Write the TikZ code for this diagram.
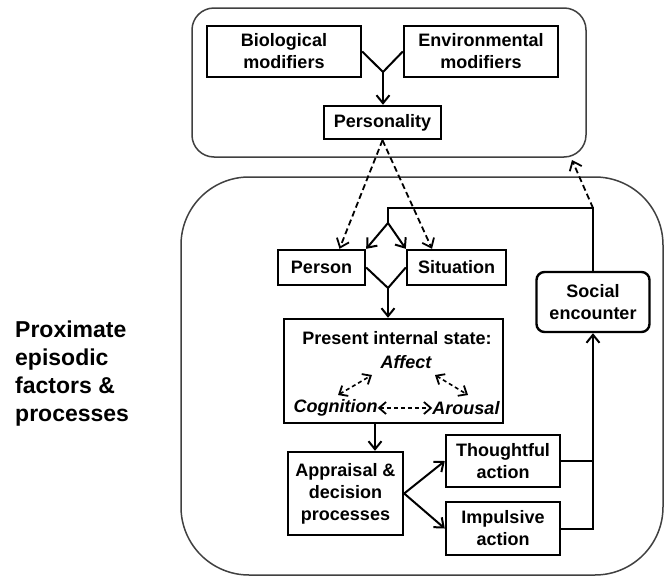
\documentclass[tikz,border=0pt]{standalone}
\usepackage{fontspec}
\setmainfont{Liberation Sans}
\usetikzlibrary{arrows.meta}
\begin{document}
\begin{tikzpicture}[x=1pt,y=-1pt,
  every node/.style={font=\bfseries\fontsize{18}{22}\selectfont},
  bx/.style={draw, line width=2.4pt, inner sep=0pt, align=center},
  conn/.style={line width=2pt, line join=miter},
  arr/.style={conn, -{Straight Barb[length=8pt,width=13pt,line width=2pt]}},
  darr/.style={line width=1.8pt, dash pattern=on 6pt off 3.5pt, -{Straight Barb[length=8pt,width=13pt,line width=1.8pt]}},
  dbl/.style={line width=1.6pt, dash pattern=on 4pt off 3pt, {Straight Barb[length=7pt,width=12pt,line width=1.8pt]}-{Straight Barb[length=7pt,width=12pt,line width=1.8pt]}},
  frame/.style={draw=black!75, line width=1.5pt}
]
\useasboundingbox (0,0) rectangle (665,576);
\fill[white] (0,0) rectangle (665,576);

% outer frames
\draw[frame, rounded corners=22pt] (192,8) rectangle (586,157);
\draw[frame, rounded corners=68pt] (181,177) rectangle (663,575);

% top group
\node[bx, minimum width=154pt, minimum height=51pt] (bio) at (284,51.5) {Biological\\modifiers};
\node[bx, minimum width=154pt, minimum height=51pt] (env) at (481,51.5) {Environmental\\modifiers};
\node[bx, minimum width=117pt, minimum height=33pt] (pers) at (382.5,122.5) {Personality};
\coordinate (yj) at (383,72);
\draw[conn] (bio.east) -- (yj) -- (env.west);
\draw[arr] (yj) -- (yj |- pers.north);

% lower group
\node[bx, minimum width=87pt, minimum height=35pt] (person) at (321.5,267.5) {Person};
\node[bx, minimum width=99pt, minimum height=35pt] (sit) at (456.5,267.5) {Situation};
\node[bx, rounded corners=8pt, minimum width=113pt, minimum height=60pt] (social) at (593,302) {Social\\encounter};
\node[bx, minimum width=219pt, minimum height=104pt] (present) at (393.5,371) {};
\node[bx, minimum width=115pt, minimum height=83pt] (appr) at (345.5,493.5) {Appraisal \&\\decision\\processes};
\node[bx, minimum width=114pt, minimum height=52pt] (thought) at (503,461) {Thoughtful\\action};
\node[bx, minimum width=114pt, minimum height=53pt] (impuls) at (503,528.5) {Impulsive\\action};

% inside present state
\node[inner sep=0pt] (pis) at (397,338) {Present internal state:};
\node[inner sep=0pt, font=\bfseries\itshape\fontsize{18}{22}\selectfont] (aff) at (406,362) {Affect};
\node[inner sep=0pt, font=\bfseries\itshape\fontsize{18}{22}\selectfont] (cog) at (335.5,408) {Cognition};
\node[inner sep=0pt, font=\bfseries\itshape\fontsize{18}{22}\selectfont] (aro) at (466,408) {Arousal};
\draw[dbl] (cog.east) -- (aro.west);
\coordinate (c1) at (338,395); \coordinate (c2) at (372,375);
\coordinate (c3) at (435,375); \coordinate (c4) at (468,395);
\draw[dbl] (c1) -- (c2);
\draw[dbl] (c3) -- (c4);

% left label
\node[inner sep=0pt, anchor=west, align=left, font=\bfseries\fontsize{23}{28}\selectfont] (lab) at (15,374) {Proximate\\episodic\\factors \&\\processes};

% dashed arrows from personality
\draw[darr] (pers.south) -- ([xshift=18pt]person.north);
\draw[darr] (pers.south) -- ([xshift=-24.5pt]sit.north);

% feedback loop
\coordinate (fb) at (593,208);
\coordinate (fbl) at (388,208);
\coordinate (split) at (388,223);
\coordinate (topc) at (572,160);
\draw[conn] (social.north) -- (fb) -- (fbl) -- (split);
\draw[arr] (split) -- (person.north east);
\draw[arr] (split) -- (sit.north west);
\draw[darr] (fb) -- (topc);

% diamond join
\coordinate (dj) at (388,288);
\draw[conn] (person.east) -- (dj) -- (sit.west);
\draw[arr] (dj) -- (dj |- present.north);

% present -> appraisal
\draw[arr] ([xshift=-18.5pt]present.south) -- ([xshift=-18.5pt]present.south |- appr.north);

% appraisal -> actions
\draw[arr] (appr.east) -- (thought.west);
\draw[arr] (appr.east) -- (impuls.west);

% actions -> social
\draw[conn] (thought.east) -- (thought.east -| social.south);
\draw[arr] (impuls.east) -- (impuls.east -| social.south) -- (social.south);
\end{tikzpicture}
\end{document}
